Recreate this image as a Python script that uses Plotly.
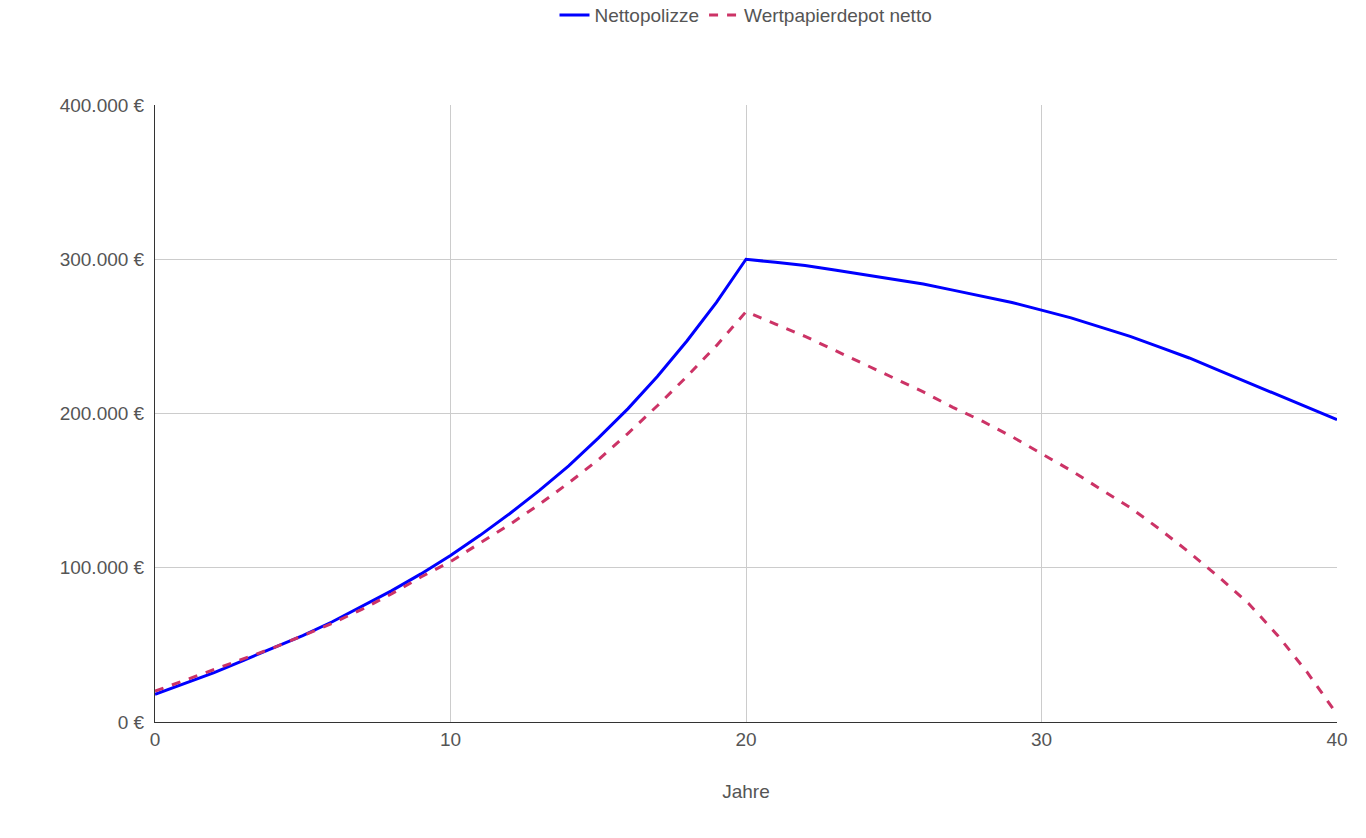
import plotly.graph_objects as go

years = list(range(41))
nettopolizze = [18000, 25000, 32000, 40000, 48000, 56000, 65000, 75000, 85000, 96000,
                108000, 121000, 135000, 150000, 166000, 184000, 203000, 224000, 247000, 272000,
                300000, 298000, 296000, 293000, 290000, 287000, 284000, 280000, 276000, 272000,
                267000, 262000, 256000, 250000, 243000, 236000, 228000, 220000, 212000, 204000, 196000]
depot = [20000, 27000, 34000, 41000, 48000, 56000, 64000, 73000, 83000, 94000,
         104000, 116000, 128000, 141000, 155000, 170000, 187000, 205000, 224000, 244000,
         266000, 258000, 250000, 241000, 232000, 223000, 214000, 204000, 195000, 185000,
         174000, 163000, 151000, 139000, 125000, 110000, 94000, 77000, 56000, 32000, 5000]

fig = go.Figure()
fig.add_trace(go.Scatter(x=years, y=nettopolizze, mode="lines", name="Nettopolizze",
                         line=dict(color="#0000ff", width=3)))
fig.add_trace(go.Scatter(x=years, y=depot, mode="lines", name="Wertpapierdepot netto",
                         line=dict(color="#cc3366", width=3, dash="dash")))
fig.update_layout(
    width=1366, height=838, paper_bgcolor="white", plot_bgcolor="white",
    font=dict(family="Liberation Sans, Arial", size=19, color="#555555"),
    margin=dict(l=147, r=37, t=97, b=124, autoexpand=False),
    separators=",.",
    legend=dict(orientation="h", x=0.5, xanchor="center", y=1.115, yanchor="bottom",
                font=dict(size=19, color="#555555")),
    xaxis=dict(range=[0, 40], dtick=10, showgrid=True, gridcolor="#cccccc",
               showline=True, linecolor="#333333", zeroline=False, automargin=False,
               title=dict(text="Jahre", standoff=35, font=dict(size=19))),
    yaxis=dict(range=[0, 400000], dtick=100000, showgrid=True, gridcolor="#cccccc",
               showline=True, linecolor="#333333", zeroline=False, automargin=False,
               tickformat=",d", ticksuffix=" €", ticklabelstandoff=6),
)
fig.write_html("out.html")
